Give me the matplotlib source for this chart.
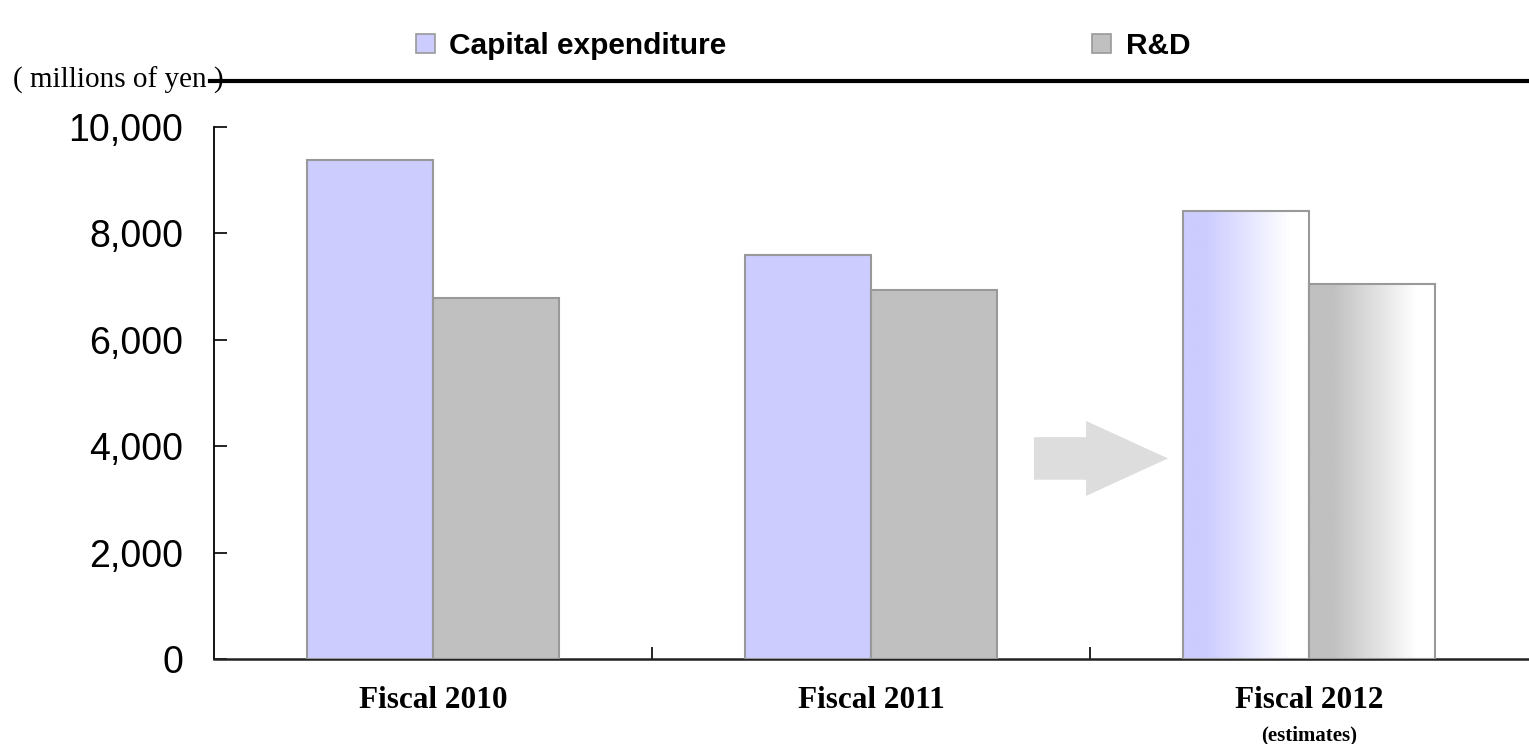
import numpy as np
import matplotlib
matplotlib.use("Agg")
import matplotlib.pyplot as plt
import matplotlib.patches as mpatches
from matplotlib.lines import Line2D
from matplotlib.ticker import StrMethodFormatter, FixedLocator
from matplotlib.colors import to_rgb

categories = ["Fiscal 2010", "Fiscal 2011", "Fiscal 2012"]
sub_labels = ["", "", "(estimates)"]
capex = [9380, 7600, 8420]
rnd = [6790, 6940, 7050]
series_names = ["Capital expenditure", "R&D"]
y_ticks = [0, 2000, 4000, 6000, 8000, 10000]
unit_label = "( millions of yen )"

cap_color = "#ccccff"
rnd_color = "#c0c0c0"
edge_color = "#999999"

W, H, DPI = 1529, 744, 100
fig = plt.figure(figsize=(W / DPI, H / DPI), dpi=DPI)
ax = fig.add_axes([214 / W, 1 - 659 / H, (1528 - 214) / W, (659 - 127) / H])
AX_H = 659 - 127

x = np.arange(len(categories))
bw = 0.288
bars_cap = ax.bar(x - bw / 2, capex, bw, color=cap_color, edgecolor=edge_color, linewidth=1.5, zorder=3)
bars_rnd = ax.bar(x + bw / 2, rnd, bw, color=rnd_color, edgecolor=edge_color, linewidth=1.5, zorder=3)


def gradient_fill(bar, color):
    r, g, b = to_rgb(color)
    n = 256
    t = np.linspace(0, 1, n)
    f = np.clip((t - 0.18) / (0.85 - 0.18), 0, 1)
    img = np.zeros((1, n, 3))
    img[0, :, 0] = r + (1 - r) * f
    img[0, :, 1] = g + (1 - g) * f
    img[0, :, 2] = b + (1 - b) * f
    bx, by = bar.get_x(), bar.get_y()
    bwid, bh = bar.get_width(), bar.get_height()
    bar.set_facecolor("none")
    im = ax.imshow(img, extent=[bx, bx + bwid, by, by + bh], aspect="auto",
                   zorder=2.5, interpolation="bilinear")
    im.set_clip_path(bar)


gradient_fill(bars_cap[2], cap_color)
gradient_fill(bars_rnd[2], rnd_color)

# arrow between Fiscal 2011 and Fiscal 2012
arrow = mpatches.FancyArrow(1.372, 3770, 1.678 - 1.372, 0, width=800, head_width=1410,
                            head_length=0.187, length_includes_head=True,
                            color="#dddddd", linewidth=0, zorder=1)
ax.add_patch(arrow)

ax.set_xlim(-0.5, 2.5)
ax.set_ylim(0, 10000)

ax.yaxis.set_major_locator(FixedLocator(y_ticks))
ax.yaxis.set_major_formatter(StrMethodFormatter("{x:,.0f}"))
ax.tick_params(axis="y", direction="in", length=9, width=1.2, pad=22, labelsize=27)
for lab in ax.get_yticklabels():
    lab.set_fontfamily("Liberation Sans")

ax.set_xticks([0.5, 1.5])
ax.set_xticklabels([])
ax.tick_params(axis="x", direction="in", length=9, width=1.2)

trans = ax.get_xaxis_transform()
for i, (c, s) in enumerate(zip(categories, sub_labels)):
    ax.text(i, -42 / AX_H, c, transform=trans, ha="center", va="center",
            fontsize=22.5, fontweight="bold", fontfamily="Liberation Serif")
    if s:
        ax.text(i, -76 / AX_H, s, transform=trans, ha="center", va="center",
                fontsize=15, fontweight="bold", fontfamily="Liberation Serif")

ax.spines["top"].set_visible(False)
ax.spines["right"].set_visible(False)
ax.spines["left"].set_linewidth(1.3)
ax.spines["bottom"].set_linewidth(1.8)
ax.spines["bottom"].set_color("#222222")

# unit label and header rule
fig.text(13 / W, 1 - 80 / H, unit_label, ha="left", va="center", fontsize=21,
         fontfamily="Liberation Serif")
fig.add_artist(Line2D([210 / W, 1.0], [1 - 81 / H, 1 - 81 / H], color="black", linewidth=3))

handles = [mpatches.Patch(facecolor=cap_color, edgecolor=edge_color, linewidth=1.2),
           mpatches.Patch(facecolor=rnd_color, edgecolor=edge_color, linewidth=1.2)]
leg = fig.legend(handles, series_names, loc="center left",
                 bbox_to_anchor=(416 / W, 1 - 46 / H), ncol=2, frameon=False,
                 prop={"family": "Liberation Sans", "weight": "bold", "size": 21.5},
                 handlelength=0.62, handleheight=0.62, handletextpad=0.5,
                 columnspacing=12.25, borderpad=0, borderaxespad=0)

fig.savefig("out.png", dpi=DPI)
